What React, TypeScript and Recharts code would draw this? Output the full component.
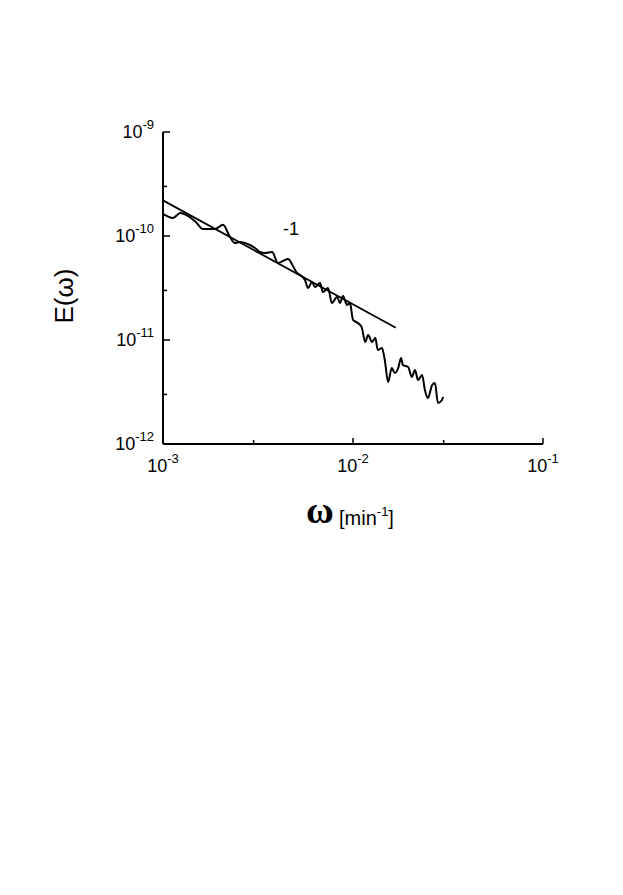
import React from "react";
import { LineChart, Line, XAxis, YAxis, ReferenceDot } from "recharts";

// spectrum: omega [1/min] and E(omega)
const OMEGA = [
  1.0e-3, 1.13e-3, 1.23e-3, 1.35e-3, 1.49e-3, 1.62e-3, 1.88e-3, 2.07e-3, 2.25e-3, 2.39e-3,
  2.54e-3, 2.7e-3, 2.87e-3, 3.05e-3, 3.24e-3, 3.44e-3, 3.75e-3, 4.03e-3, 4.28e-3, 4.55e-3,
  4.83e-3, 5.07e-3, 5.26e-3, 5.59e-3, 5.8e-3, 6.08e-3, 6.31e-3, 6.7e-3, 6.95e-3, 7.38e-3,
  7.75e-3, 8.24e-3, 8.54e-3, 8.86e-3, 9.3e-3, 9.64e-3, 1.0e-2, 1.06e-2, 1.11e-2, 1.16e-2,
  1.2e-2, 1.26e-2, 1.31e-2, 1.35e-2, 1.42e-2, 1.47e-2, 1.53e-2, 1.6e-2, 1.66e-2, 1.73e-2,
  1.79e-2, 1.83e-2, 1.95e-2, 2.04e-2, 2.12e-2, 2.2e-2, 2.31e-2, 2.39e-2, 2.48e-2, 2.61e-2,
  2.7e-2, 2.8e-2, 2.94e-2, 2.98e-2,
];
const ENERGY = [
  1.63e-10, 1.49e-10, 1.66e-10, 1.56e-10, 1.36e-10, 1.17e-10, 1.17e-10, 1.28e-10, 9.8e-11, 8.57e-11,
  8.75e-11, 8.57e-11, 8.19e-11, 7.67e-11, 7.02e-11, 6.87e-11, 7.02e-11, 5.5e-11, 5.75e-11, 6.01e-11,
  5.15e-11, 4.41e-11, 4.22e-11, 3.78e-11, 3.16e-11, 3.61e-11, 3.23e-11, 3.53e-11, 2.89e-11, 3.16e-11,
  2.27e-11, 2.59e-11, 2.27e-11, 2.65e-11, 2.17e-11, 2.27e-11, 1.56e-11, 1.46e-11, 1.33e-11, 9.57e-12,
  1.12e-11, 9.57e-12, 1.05e-11, 8.01e-12, 8.38e-12, 6.42e-12, 3.95e-12, 5.38e-12, 4.81e-12, 5.38e-12,
  6.71e-12, 5.75e-12, 5.5e-12, 4.41e-12, 5.15e-12, 4.12e-12, 4.61e-12, 3.31e-12, 2.77e-12, 3.69e-12,
  3.86e-12, 2.48e-12, 2.65e-12, 2.83e-12,
];

// the -1 power-law guide line (two end points)
const FIT_OMEGA = [1.0e-3, 1.68e-2];
const FIT_ENERGY = [2.2e-10, 1.31e-11];

const X_TICKS = [1e-3, 3e-3, 1e-2, 3e-2, 1e-1];
const Y_TICKS = [1e-12, 3e-12, 1e-11, 3e-11, 1e-10, 3e-10, 1e-9];
const SLOPE_LABEL = "-1";
const SLOPE_POS = { w: 4.72e-3, e: 1.19e-10 };

const spectrum = OMEGA.map((w, i) => ({ w, e: ENERGY[i] }));
const fit = FIT_OMEGA.map((w, i) => ({ w, e: FIT_ENERGY[i] }));

const FONT = "'Liberation Sans', Arial, Helvetica, sans-serif";

const isMajor = (v: number) => Math.abs(Math.log10(v) - Math.round(Math.log10(v))) < 1e-6;
const expOf = (v: number) => Math.round(Math.log10(v));

const XTick = (props: any) => {
  const { x, y, payload } = props;
  const v = payload.value;
  const major = isMajor(v);
  return (
    <g>
      <line x1={x} x2={x} y1={y} y2={y - (major ? 6 : 4)} stroke="#000" strokeWidth={1.5} />
      {major && (
        <text x={x} y={y + 28} textAnchor="middle" fontFamily={FONT} fontSize={18} fill="#000">
          <tspan>10</tspan>
          <tspan fontSize={13} dy={-9}>{expOf(v)}</tspan>
        </text>
      )}
    </g>
  );
};

const YTick = (props: any) => {
  const { x, y, payload } = props;
  const v = payload.value;
  const major = isMajor(v);
  return (
    <g>
      <line x1={x} x2={x + (major ? 7 : 4)} y1={y} y2={y} stroke="#000" strokeWidth={1.5} />
      {major && (
        <text x={x - 9} y={y + 6} textAnchor="end" fontFamily={FONT} fontSize={18} fill="#000">
          <tspan>10</tspan>
          <tspan fontSize={13} dy={-9}>{expOf(v)}</tspan>
        </text>
      )}
    </g>
  );
};

export default function App() {
  return (
    <div style={{ position: "absolute", left: 0, top: 0, width: 623, height: 895, background: "#fff" }}>
      <LineChart
        width={623}
        height={600}
        margin={{ top: 132, right: 80, left: 103, bottom: 116 }}
      >
        <XAxis
          dataKey="w"
          type="number"
          scale="log"
          domain={[1e-3, 1e-1]}
          ticks={X_TICKS}
          interval={0}
          allowDataOverflow
          height={40}
          tickSize={0}
          tickMargin={0}
          tickLine={false}
          tick={<XTick />}
          axisLine={{ stroke: "#000", strokeWidth: 2 }}
        />
        <YAxis
          dataKey="e"
          type="number"
          scale="log"
          domain={[1e-12, 1e-9]}
          ticks={Y_TICKS}
          interval={0}
          allowDataOverflow
          width={60}
          tickSize={0}
          tickMargin={0}
          tickLine={false}
          tick={<YTick />}
          axisLine={{ stroke: "#000", strokeWidth: 2 }}
        />
        <Line
          data={fit}
          dataKey="e"
          type="linear"
          stroke="#000"
          strokeWidth={1.8}
          dot={false}
          isAnimationActive={false}
        />
        <Line
          data={spectrum}
          dataKey="e"
          type="monotone"
          stroke="#000"
          strokeWidth={2}
          dot={false}
          isAnimationActive={false}
        />
        <ReferenceDot
          x={SLOPE_POS.w}
          y={SLOPE_POS.e}
          r={0}
          fill="none"
          stroke="none"
          label={{ value: SLOPE_LABEL, position: "center", fontFamily: FONT, fontSize: 18, fill: "#000" }}
        />
      </LineChart>
      <svg
        width={623}
        height={600}
        style={{ position: "absolute", left: 0, top: 0, pointerEvents: "none" }}
      >
        <text
          x={73}
          y={296}
          textAnchor="middle"
          transform="rotate(-90 73 296)"
          fontFamily={FONT}
          fontSize={26}
          fill="#000"
        >
          E(ω)
        </text>
        <text x={306} y={523} fontFamily="'Liberation Serif', serif" fontWeight="bold" fontSize={38} fill="#000">
          ω
        </text>
        <text x={339} y={525} fontFamily={FONT} fontSize={20} fill="#000">
          <tspan>[min</tspan>
          <tspan fontSize={13} dy={-9}>-1</tspan>
          <tspan dy={9}>]</tspan>
        </text>
      </svg>
    </div>
  );
}
